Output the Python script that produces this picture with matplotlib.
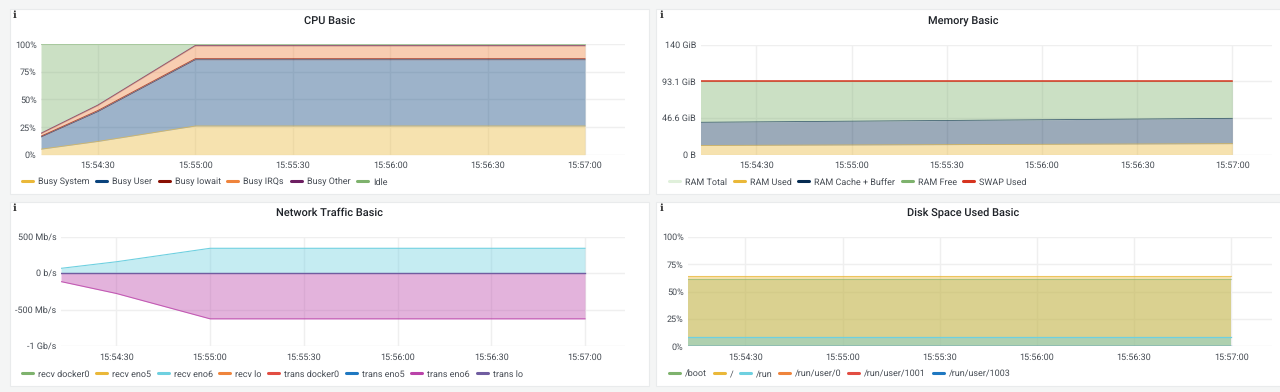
import matplotlib
matplotlib.use("Agg")
import matplotlib.pyplot as plt
from matplotlib.lines import Line2D
from matplotlib.patches import Rectangle

plt.rcParams['font.family'] = ['Roboto', 'DejaVu Sans']
plt.rcParams['text.hinting'] = 'no_hinting'
plt.rcParams['text.hinting_factor'] = 1

W, H = 1280, 392
TEXT = '#464c54'
GRID = '#efefef'

# seconds after 15:54:00
tick_secs = [30, 60, 90, 120, 150, 180]
tick_labels = ['15:54:30', '15:55:00', '15:55:30', '15:56:00', '15:56:30', '15:57:00']

cpu_t = [12.5, 30, 60, 180]
cpu_system = [5, 12, 26, 26]
cpu_user = [11, 27, 60, 60]
cpu_iowait = [0.8, 1, 1, 1]
cpu_irqs = [2.2, 4.5, 11.5, 11.5]
cpu_other = [0.5, 0.5, 0.5, 0.5]
cpu_idle = [80.5, 55, 1, 1]
cpu_labels = ['Busy System', 'Busy User', 'Busy Iowait', 'Busy IRQs', 'Busy Other', 'Idle']
cpu_colors = ['#EAB839', '#0A437C', '#890F02', '#EF843C', '#6D1F62', '#7EB26D']
cpu_yticks = [0, 25, 50, 75, 100]
cpu_yticklabels = ['0%', '25%', '50%', '75%', '100%']

mem_t = [12.35, 180]
mem_used = [11.5, 13.8]
mem_cache = [29.5, 32.2]
mem_free = [52.1, 47.1]
mem_swap = [0.3, 0.3]
mem_labels = ['RAM Total', 'RAM Used', 'RAM Cache + Buffer', 'RAM Free', 'SWAP Used']
mem_colors = ['#E0F0DB', '#EAB839', '#052B51', '#7EB26D', '#D6341F']
mem_yticks = [0, 46.6, 93.1, 140]
mem_yticklabels = ['0 B', '46.6 GiB', '93.1 GiB', '140 GiB']

net_t = [12.3, 30, 60, 180]
net_recv = [70, 160, 345, 345]
net_trans = [-112, -275, -623, -623]
net_labels = ['recv docker0', 'recv eno5', 'recv eno6', 'recv lo',
              'trans docker0', 'trans eno5', 'trans eno6', 'trans lo']
net_colors = ['#7EB26D', '#EAB839', '#6ED0E0', '#EF843C', '#E24D42', '#1F78C1', '#BA43A9', '#705DA0']
net_yticks = [-1000, -500, 0, 500]
net_yticklabels = ['-1 Gb/s', '-500 Mb/s', '0 b/s', '500 Mb/s']

disk_t = [12.3, 180]
disk_boot = [61.6, 61.6]
disk_root = [64, 64]
disk_run = [8.5, 8.5]
disk_user = [0.3, 0.3]
disk_labels = ['/boot', '/', '/run', '/run/user/0', '/run/user/1001', '/run/user/1003']
disk_colors = ['#7EB26D', '#EAB839', '#6ED0E0', '#EF843C', '#E24D42', '#1F78C1']
disk_yticks = [0, 25, 50, 75, 100]
disk_yticklabels = ['0%', '25%', '50%', '75%', '100%']

fig = plt.figure(figsize=(W / 100, H / 100), dpi=100, facecolor='#f4f5f5')


def panel(box, title_x, plot, xlim, ylim, title, yticks, yticklabels, labels, colors, legend_x, legend_y):
    x0, y0, x1, y1 = box
    fig.add_artist(Rectangle((x0 / W, 1 - y1 / H), (x1 - x0) / W, (y1 - y0) / H,
                             transform=fig.transFigure, fc='white', ec='#e9ebec', lw=0.8, zorder=-5))
    fig.text((x0 + 5.5) / W, 1 - (y0 + 6.5) / H, 'i', family='DejaVu Serif', fontweight='bold',
             fontsize=7, color='#333333', ha='center', va='center')
    fig.text(title_x / W, 1 - (y0 + 11.5) / H, title, fontsize=7.6, fontweight='medium',
             color='#1f2329', ha='center', va='center')
    px0, py0, px1, py1 = plot
    ax = fig.add_axes([px0 / W, 1 - py1 / H, (px1 - px0) / W, (py1 - py0) / H])
    ax.set_xlim(*xlim)
    ax.set_ylim(*ylim)
    ax.set_facecolor('none')
    for s in ax.spines.values():
        s.set_visible(False)
    ax.set_xticks(tick_secs, tick_labels)
    ax.set_yticks(yticks, yticklabels)
    ax.tick_params(length=0, labelsize=6.4, labelcolor=TEXT, pad=3.2)
    ax.tick_params(axis='x', pad=5)
    ax.grid(True, color=GRID, lw=1)
    ax.set_axisbelow(True)
    handles = [Line2D([], [], color=c, lw=2.2, solid_capstyle='round') for c in colors]
    ax.legend(handles, labels, ncol=len(labels), frameon=False, loc='center left',
              bbox_to_anchor=(legend_x / W, 1 - legend_y / H), bbox_transform=fig.transFigure,
              fontsize=6.4, labelcolor=TEXT, handlelength=1.24, handletextpad=0.56,
              columnspacing=0.74, borderpad=0, borderaxespad=0)
    return ax


def stack(ax, t, series, colors, alpha=0.4):
    base = [0] * len(t)
    for vals, c in zip(series, colors):
        top = [b + v for b, v in zip(base, vals)]
        ax.fill_between(t, base, top, color=c, alpha=alpha, lw=0, zorder=2)
        ax.plot(t, top, color=c, lw=0.6, alpha=0.7, zorder=3)
        base = top


# CPU Basic
ax = panel((9.5, 9, 649, 194), 329.5, (41, 44.3, 625, 154.7), (12.5, 192.3), (0, 100), 'CPU Basic',
           cpu_yticks, cpu_yticklabels, cpu_labels, cpu_colors, 22, 182)
stack(ax, cpu_t, [cpu_system, cpu_user, cpu_iowait, cpu_irqs, cpu_other, cpu_idle], cpu_colors)

# Memory Basic
ax = panel((656, 9, 1290, 194), 963.5, (700.5, 44.5, 1272, 154.5), (12.35, 192.5), (0, 140), 'Memory Basic',
           mem_yticks, mem_yticklabels, mem_labels, mem_colors, 669, 182)
stack(ax, mem_t, [mem_used, mem_cache, mem_free], [mem_colors[1], mem_colors[2], mem_colors[3]])
total = [a + b + c for a, b, c in zip(mem_used, mem_cache, mem_free)]
ax.plot(mem_t, [v + s for v, s in zip(total, mem_swap)], color=mem_colors[4], lw=1.1, zorder=4)

# Network Traffic Basic
ax = panel((9.5, 201.5, 649, 386), 329.5, (61, 237, 625, 346.3), (12.3, 192.8), (-1000, 500), 'Network Traffic Basic',
           net_yticks, net_yticklabels, net_labels, net_colors, 22, 374)
ax.fill_between(net_t, 0, net_recv, color=net_colors[2], alpha=0.4, lw=0, zorder=2)
ax.plot(net_t, net_recv, color=net_colors[2], lw=0.8, zorder=3)
ax.fill_between(net_t, 0, net_trans, color=net_colors[6], alpha=0.4, lw=0, zorder=2)
ax.plot(net_t, net_trans, color=net_colors[6], lw=0.8, alpha=0.8, zorder=3)
ax.plot(net_t, [0] * len(net_t), color=net_colors[7], lw=1, zorder=4)

# Disk Space Used Basic
ax = panel((656, 201.5, 1290, 386), 963.5, (688, 237, 1272, 346.3), (12.3, 192.6), (0, 100), 'Disk Space Used Basic',
           disk_yticks, disk_yticklabels, disk_labels, disk_colors, 669, 374)
ax.fill_between(disk_t, 0, disk_boot, color=disk_colors[0], alpha=0.36, lw=0, zorder=2)
ax.plot(disk_t, disk_boot, color=disk_colors[0], lw=0.8, alpha=0.5, zorder=3)
ax.fill_between(disk_t, 0, disk_root, color=disk_colors[1], alpha=0.4, lw=0, zorder=2)
ax.plot(disk_t, disk_root, color=disk_colors[1], lw=0.8, alpha=0.7, zorder=3)
ax.fill_between(disk_t, 0, disk_run, color=disk_colors[2], alpha=0.4, lw=0, zorder=2)
ax.plot(disk_t, disk_run, color=disk_colors[2], lw=0.9, zorder=3)
ax.plot(disk_t, disk_user, color=disk_colors[5], lw=1, zorder=4)

fig.savefig('out.png', dpi=100, facecolor=fig.get_facecolor())
